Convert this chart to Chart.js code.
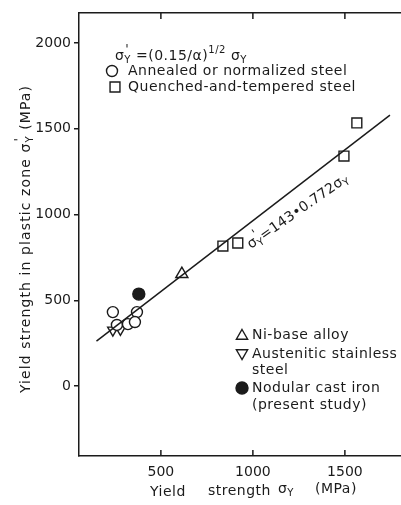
<!DOCTYPE html>
<html>
<head>
<meta charset="utf-8">
<script src="https://cdn.jsdelivr.net/npm/chart.js@4.4.1/dist/chart.umd.min.js"></script>
<style>
  html, body { margin: 0; padding: 0; background: #fff; }
  #wrap { width: 401px; height: 505px; }
</style>
</head>
<body>
<div id="wrap"><canvas id="yieldChart" width="401" height="505"></canvas></div>
<script>
const FONT = '"DejaVu Sans", sans-serif';
const INK = '#1b1b1b';

const xTicks = [500, 1000, 1500];
const yTicks = [0, 500, 1000, 1500, 2000];

// yield strength (MPa) vs yield strength in plastic zone (MPa)
const annealedX = [239, 370, 261, 321, 359];
const annealedY = [431, 431, 356, 361, 373];
const quenchedX = [837, 918, 1495, 1565];
const quenchedY = [816, 834, 1341, 1534];
const niBaseX = [614];
const niBaseY = [653];
const austeniticX = [239, 280];
const austeniticY = [326, 330];
const nodularX = [380];
const nodularY = [536];
const fitX = [150, 1745];
const fitY = [262, 1580];

const toPoints = (xs, ys) => xs.map((x, i) => ({ x: x, y: ys[i] }));

function drawRich(ctx, parts, x, y, size, spacing, dry) {
  ctx.letterSpacing = (spacing || 0) + 'px';
  let cx = x;
  for (const p of parts) {
    if (typeof p === 'string') {
      ctx.font = `${size}px ${FONT}`;
      if (!dry) ctx.fillText(p, cx, y);
      cx += ctx.measureText(p).width;
    } else {
      let w = 0;
      if (p.sup) {
        ctx.font = `${size * (p.sup === "'" ? 0.9 : 0.72)}px ${FONT}`;
        if (!dry) ctx.fillText(p.sup, cx + (p.sup === "'" ? 1 : 0), y - size * 0.42);
        w = ctx.measureText(p.sup).width;
      }
      if (p.sub) {
        ctx.font = `${size * 0.72}px ${FONT}`;
        if (!dry) ctx.fillText(p.sub, cx, y + size * 0.3);
        w = Math.max(w, ctx.measureText(p.sub).width);
      }
      cx += w;
    }
  }
  ctx.letterSpacing = '0px';
  return cx - x;
}

const decorations = {
  id: 'decorations',
  afterDraw(chart) {
    const ctx = chart.ctx;
    const { x } = chart.scales;
    const area = chart.chartArea;
    ctx.save();

    // inward tick marks on bottom and top axes
    ctx.strokeStyle = INK;
    ctx.lineWidth = 1.5;
    xTicks.forEach((v) => {
      const px = x.getPixelForValue(v);
      ctx.beginPath();
      ctx.moveTo(px, area.bottom);
      ctx.lineTo(px, area.bottom - 6);
      ctx.moveTo(px, area.top);
      ctx.lineTo(px, area.top + 6);
      ctx.stroke();
    });

    ctx.fillStyle = INK;
    ctx.textBaseline = 'middle';
    ctx.textAlign = 'left';

    // top legend
    drawRich(ctx, ['σ', { sup: "'", sub: 'Y' }, ' =(0.15/α)', { sup: '1/2' }, ' σ', { sub: 'Y' }], 115, 56, 14, 0.5);
    drawRich(ctx, ['Annealed or normalized steel'], 128, 71, 14, 0.5);
    drawRich(ctx, ['Quenched-and-tempered steel'], 128, 87, 14, 0.5);

    // bottom legend
    drawRich(ctx, ['Ni-base alloy'], 252, 335, 14, 0.5);
    drawRich(ctx, ['Austenitic stainless'], 252, 354, 14, 0.5);
    drawRich(ctx, ['steel'], 252, 370, 14, 0.5);
    drawRich(ctx, ['Nodular cast iron'], 252, 388, 14, 0.5);
    drawRich(ctx, ['(present study)'], 252, 405, 14, 0.5);

    const symbol = (style, rotation, radius, fill, px, py) => {
      ctx.fillStyle = fill;
      ctx.strokeStyle = INK;
      ctx.lineWidth = 1.4;
      Chart.helpers.drawPoint(ctx, { pointStyle: style, rotation: rotation, radius: radius, borderWidth: 1.4 }, px, py);
    };
    symbol('circle', 0, 5.5, '#fff', 112, 71);
    symbol('rect', 0, 7, '#fff', 115, 87);
    symbol('triangle', 0, 6.5, '#fff', 242, 336);
    symbol('triangle', 180, 6.5, '#fff', 242, 353);
    symbol('circle', 0, 6, INK, 242, 388);

    // fit equation along the line
    ctx.fillStyle = INK;
    ctx.save();
    ctx.translate(249, 246);
    ctx.rotate(-35 * Math.PI / 180);
    drawRich(ctx, ['σ', { sup: "'", sub: 'Y' }, '=143•0.772σ', { sub: 'Y' }], 0, 0, 14, 0.2);
    ctx.restore();

    // x axis title
    drawRich(ctx, ['Yield'], 150, 492, 14, 0.5);
    drawRich(ctx, ['strength'], 208, 491, 14, 0.5);
    drawRich(ctx, ['σ', { sub: 'Y' }], 278, 489, 14, 0.5);
    drawRich(ctx, ['(MPa)'], 315, 489, 14, 0.5);

    // y axis title
    const yParts = ['Yield strength in plastic zone σ', { sup: "'", sub: 'Y' }, ' (MPa)'];
    ctx.save();
    ctx.translate(26, 239);
    ctx.rotate(-Math.PI / 2);
    const w = drawRich(ctx, yParts, 0, 0, 14, 1.1, true);
    drawRich(ctx, yParts, -w / 2, 0, 14, 1.1);
    ctx.restore();

    ctx.restore();
  },
};

const markerBase = {
  showLine: false,
  borderColor: INK,
  borderWidth: 1.4,
  backgroundColor: '#fff',
};

const plainNumber = (value) => String(value);

new Chart(document.getElementById('yieldChart').getContext('2d'), {
  type: 'scatter',
  data: {
    datasets: [
      {
        label: 'Fit',
        data: toPoints(fitX, fitY),
        showLine: true,
        borderColor: INK,
        borderWidth: 1.5,
        pointRadius: 0,
      },
      { ...markerBase, label: 'Annealed or normalized steel', data: toPoints(annealedX, annealedY), pointStyle: 'circle', pointRadius: 5.5 },
      { ...markerBase, label: 'Quenched-and-tempered steel', data: toPoints(quenchedX, quenchedY), pointStyle: 'rect', pointRadius: 7 },
      { ...markerBase, label: 'Ni-base alloy', data: toPoints(niBaseX, niBaseY), pointStyle: 'triangle', pointRadius: 7 },
      { ...markerBase, label: 'Austenitic stainless steel', data: toPoints(austeniticX, austeniticY), pointStyle: 'triangle', rotation: 180, pointRadius: 6 },
      { ...markerBase, label: 'Nodular cast iron', data: toPoints(nodularX, nodularY), pointStyle: 'circle', pointRadius: 6, backgroundColor: INK },
    ],
  },
  options: {
    responsive: false,
    animation: false,
    layout: { autoPadding: false, padding: { top: 13, right: 0, bottom: 0, left: 0 } },
    plugins: {
      legend: { display: false },
      tooltip: { enabled: false },
    },
    scales: {
      x: {
        type: 'linear',
        position: 'bottom',
        min: 55,
        max: 1805,
        afterBuildTicks: (scale) => { scale.ticks = xTicks.map((v) => ({ value: v })); },
        afterFit: (scale) => { scale.height = 49; scale.paddingRight = 0; },
        grid: { display: false },
        border: { display: true, color: INK, width: 1.5 },
        ticks: { color: INK, font: { family: FONT, size: 14 }, padding: 0, maxRotation: 0, callback: plainNumber },
      },
      x2: {
        type: 'linear',
        position: 'top',
        min: 55,
        max: 1805,
        afterBuildTicks: (scale) => { scale.ticks = xTicks.map((v) => ({ value: v })); },
        afterFit: (scale) => { scale.height = 0; scale.paddingRight = 0; },
        grid: { display: false },
        border: { display: true, color: INK, width: 1.5 },
        ticks: { display: false },
      },
      y: {
        type: 'linear',
        min: -408,
        max: 2175,
        afterBuildTicks: (scale) => { scale.ticks = yTicks.map((v) => ({ value: v })); },
        afterFit: (scale) => { scale.width = 79; },
        grid: { display: true, drawOnChartArea: false, drawTicks: true, tickLength: 5, color: INK, lineWidth: 1.5 },
        border: { display: true, color: INK, width: 1.5 },
        ticks: { color: INK, font: { family: FONT, size: 14 }, padding: 3, callback: plainNumber },
      },
    },
  },
  plugins: [decorations],
});
</script>
</body>
</html>
